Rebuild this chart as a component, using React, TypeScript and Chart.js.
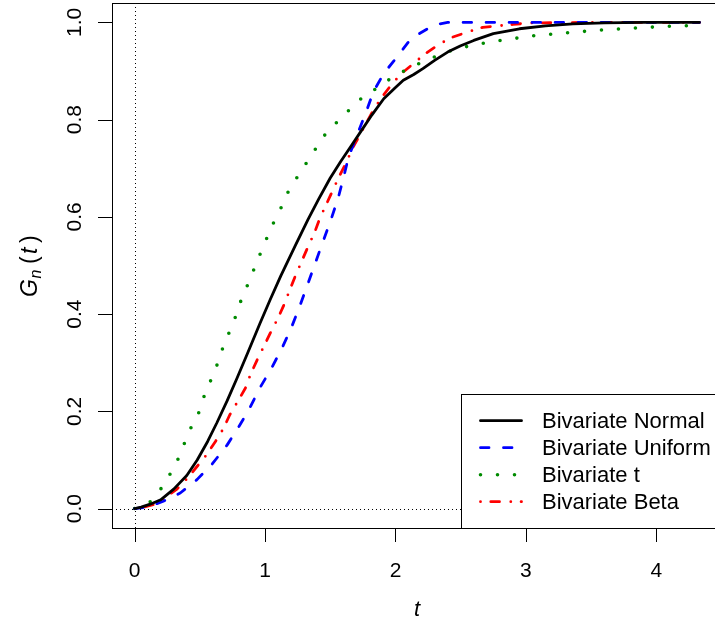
import React, { useEffect, useRef } from "react";
import { Chart, registerables } from "chart.js";

Chart.register(...registerables);

// ---- data ----
const tNormal = [0, 0.05, 0.12, 0.2, 0.3, 0.4, 0.48, 0.56, 0.63, 0.71, 0.78, 0.87, 0.96, 1.04, 1.12, 1.23, 1.33, 1.41, 1.5, 1.58, 1.66, 1.74, 1.82, 1.91, 2.0, 2.06, 2.14, 2.21, 2.3, 2.4, 2.5, 2.6, 2.75, 2.95, 3.15, 3.36, 3.6, 3.9, 4.33];
const gNormal = [0, 0.003, 0.009, 0.018, 0.04, 0.068, 0.1, 0.138, 0.176, 0.222, 0.265, 0.322, 0.38, 0.43, 0.478, 0.54, 0.595, 0.636, 0.68, 0.714, 0.746, 0.778, 0.81, 0.843, 0.866, 0.881, 0.893, 0.905, 0.922, 0.939, 0.952, 0.963, 0.977, 0.987, 0.993, 0.997, 0.999, 1.0, 1.0];

const tUniform = [0, 0.1, 0.22, 0.35, 0.48, 0.59, 0.71, 0.8, 0.87, 0.96, 1.05, 1.13, 1.2, 1.26, 1.32, 1.38, 1.44, 1.5, 1.56, 1.6, 1.64, 1.7, 1.77, 1.83, 1.91, 2.0, 2.1, 2.17, 2.24, 2.32, 2.4, 2.6, 3.0, 3.5, 4.0, 4.33];
const gUniform = [0, 0.003, 0.015, 0.032, 0.06, 0.09, 0.131, 0.169, 0.2, 0.248, 0.289, 0.33, 0.371, 0.412, 0.456, 0.501, 0.546, 0.59, 0.638, 0.679, 0.723, 0.765, 0.812, 0.857, 0.895, 0.925, 0.96, 0.975, 0.986, 0.996, 1.0, 1.0, 1.0, 1.0, 1.0, 1.0];

const tStudent = [0, 0.12, 0.2, 0.27, 0.33, 0.38, 0.43, 0.49, 0.53, 0.58, 0.63, 0.67, 0.72, 0.77, 0.81, 0.86, 0.91, 0.96, 1.01, 1.06, 1.12, 1.17, 1.24, 1.31, 1.38, 1.45, 1.54, 1.63, 1.72, 1.83, 1.93, 2.05, 2.16, 2.28, 2.39, 2.52, 2.65, 2.78, 2.91, 3.04, 3.29, 3.55, 3.81, 4.07, 4.33];
const gStudent = [0, 0.014, 0.04, 0.07, 0.1, 0.133, 0.165, 0.196, 0.229, 0.261, 0.294, 0.326, 0.359, 0.392, 0.424, 0.456, 0.489, 0.522, 0.554, 0.585, 0.617, 0.648, 0.679, 0.708, 0.737, 0.766, 0.792, 0.816, 0.84, 0.86, 0.879, 0.898, 0.913, 0.927, 0.939, 0.949, 0.956, 0.962, 0.967, 0.972, 0.978, 0.984, 0.988, 0.992, 0.994];

const tBeta = [0, 0.07, 0.145, 0.22, 0.325, 0.4, 0.48, 0.55, 0.62, 0.68, 0.73, 0.79, 0.85, 0.89, 0.94, 0.99, 1.04, 1.1, 1.15, 1.19, 1.23, 1.28, 1.33, 1.38, 1.42, 1.47, 1.52, 1.57, 1.63, 1.67, 1.72, 1.78, 1.84, 1.91, 1.98, 2.06, 2.15, 2.23, 2.34, 2.44, 2.55, 2.67, 2.9, 3.03, 3.5, 4.0, 4.33];
const gBeta = [0, 0.003, 0.008, 0.02, 0.04, 0.061, 0.087, 0.11, 0.138, 0.164, 0.193, 0.22, 0.248, 0.277, 0.306, 0.333, 0.361, 0.392, 0.422, 0.45, 0.477, 0.508, 0.539, 0.568, 0.597, 0.626, 0.655, 0.684, 0.716, 0.741, 0.765, 0.795, 0.824, 0.851, 0.876, 0.898, 0.918, 0.936, 0.956, 0.97, 0.98, 0.99, 0.996, 0.999, 1.0, 1.0, 1.0];

const seriesLabels = ["Bivariate Normal", "Bivariate Uniform", "Bivariate t", "Bivariate Beta"];
const xTicks = [0, 1, 2, 3, 4];
const yTicks = [0, 0.2, 0.4, 0.6, 0.8, 1.0];
const yTickLabels = ["0.0", "0.2", "0.4", "0.6", "0.8", "1.0"];

const X_MAX = 4.33;
const FONT = '"Liberation Sans", Arial, Helvetica, sans-serif';
const FS = 21;
const FS_LEG = 22;

const styles = [
  { color: "#000000", dash: [] as number[], cap: "round", lw: 2.8 },
  { color: "#0000FF", dash: [8.5, 14.5], cap: "round", lw: 2.8 },
  { color: "#008B00", dash: [0, 17], cap: "round", lw: 3.6 },
  { color: "#FF0000", dash: [0, 10.3, 8.7, 11.3], cap: "round", lw: 2.8 },
];

function pts(ts: number[], gs: number[]) {
  return ts.map((t, i) => ({ x: t, y: gs[i] }));
}

const decorPlugin = {
  id: "rdecor",
  beforeDatasetsDraw(chart: any) {
    const { ctx, chartArea: a, scales } = chart;
    const x0 = scales.x.getPixelForValue(0);
    const y0 = scales.y.getPixelForValue(0);
    ctx.save();
    ctx.beginPath();
    ctx.rect(a.left, a.top, a.right - a.left, a.bottom - a.top);
    ctx.clip();
    ctx.strokeStyle = "#000";
    ctx.lineWidth = 1;
    ctx.setLineDash([1, 3]);
    ctx.beginPath();
    ctx.moveTo(a.left, Math.round(y0) + 0.5);
    ctx.lineTo(a.right, Math.round(y0) + 0.5);
    ctx.moveTo(Math.round(x0) + 0.5, a.top);
    ctx.lineTo(Math.round(x0) + 0.5, a.bottom);
    ctx.stroke();
    ctx.restore();
  },
  afterDatasetsDraw(chart: any) {
    const { ctx, chartArea: a, scales } = chart;
    ctx.save();
    // legend
    const lx = 461, ly = 394;
    ctx.fillStyle = "#fff";
    ctx.fillRect(lx, ly, a.right - lx, a.bottom - ly);
    ctx.strokeStyle = "#000";
    ctx.lineWidth = 1;
    ctx.setLineDash([]);
    ctx.strokeRect(lx + 0.5, ly + 0.5, a.right - lx, a.bottom - ly);
    seriesLabels.forEach((lab, i) => {
      const yy = 420.7 + i * 27;
      const s = styles[i];
      ctx.save();
      ctx.strokeStyle = s.color;
      ctx.lineWidth = s.lw;
      ctx.lineCap = s.cap;
      ctx.setLineDash(s.dash);
      ctx.beginPath();
      ctx.moveTo(480.5, yy);
      ctx.lineTo(521.5, yy);
      ctx.stroke();
      ctx.restore();
      ctx.fillStyle = "#000";
      ctx.font = `${FS_LEG}px ${FONT}`;
      ctx.textAlign = "left";
      ctx.textBaseline = "middle";
      ctx.fillText(lab, 542, yy + 1);
    });
    // box
    ctx.strokeStyle = "#000";
    ctx.lineWidth = 1;
    ctx.strokeRect(Math.round(a.left) + 0.5, Math.round(a.top) + 0.5, Math.round(a.right - a.left), Math.round(a.bottom - a.top));
    // ticks
    ctx.font = `${FS}px ${FONT}`;
    ctx.fillStyle = "#000";
    ctx.beginPath();
    xTicks.forEach((v) => {
      const px = Math.round(scales.x.getPixelForValue(v)) + 0.5;
      ctx.moveTo(px, a.bottom);
      ctx.lineTo(px, a.bottom + 14);
    });
    yTicks.forEach((v) => {
      const py = Math.round(scales.y.getPixelForValue(v)) + 0.5;
      ctx.moveTo(a.left, py);
      ctx.lineTo(a.left - 14, py);
    });
    ctx.stroke();
    ctx.textAlign = "center";
    ctx.textBaseline = "alphabetic";
    xTicks.forEach((v) => {
      ctx.fillText(String(v), scales.x.getPixelForValue(v), 576.5);
    });
    yTicks.forEach((v, i) => {
      ctx.save();
      ctx.translate(80.5, scales.y.getPixelForValue(v));
      ctx.rotate(-Math.PI / 2);
      ctx.fillText(yTickLabels[i], 0, 0);
      ctx.restore();
    });
    // x title
    ctx.font = `italic ${FS_LEG}px ${FONT}`;
    ctx.fillText("t", 417, 615.5);
    // y title G_n(t)
    ctx.save();
    ctx.translate(36.5, 297);
    ctx.rotate(-Math.PI / 2);
    ctx.textAlign = "left";
    const parts = [
      { s: "G", f: `italic 23px ${FONT}`, x: 0, dy: 0 },
      { s: "n", f: `italic 16px ${FONT}`, x: 18.5, dy: 4 },
      { s: "(", f: `23px ${FONT}`, x: 33, dy: 0 },
      { s: "t", f: `italic 23px ${FONT}`, x: 43, dy: 0 },
      { s: ")", f: `23px ${FONT}`, x: 54, dy: 0 },
    ];
    parts.forEach((p) => {
      ctx.font = p.f;
      ctx.fillText(p.s, p.x, p.dy);
    });
    ctx.restore();
    ctx.restore();
  },
};

export default function App() {
  const ref = useRef<HTMLCanvasElement | null>(null);
  useEffect(() => {
    const canvas = ref.current!;
    const W = 740, H = 621;
    const top = 3, bottom = 528, left = 112, right = 722;
    const allT = [tNormal, tUniform, tStudent, tBeta];
    const allG = [gNormal, gUniform, gStudent, gBeta];
    const chart = new Chart(canvas, {
      type: "line",
      data: {
        datasets: seriesLabels.map((lab, i) => ({
          label: lab,
          data: pts(allT[i], allG[i]),
          borderColor: styles[i].color,
          borderWidth: styles[i].lw,
          borderDash: styles[i].dash,
          borderCapStyle: styles[i].cap as any,
          borderJoinStyle: "round" as any,
          pointRadius: 0,
          tension: 0,
          fill: false,
        })),
      },
      options: {
        animation: false,
        responsive: false,
        maintainAspectRatio: false,
        devicePixelRatio: 1,
        layout: { padding: { top, right: W - right, left: 0, bottom: 0 } },
        plugins: { legend: { display: false }, tooltip: { enabled: false } },
        scales: {
          x: {
            type: "linear",
            min: -0.04 * X_MAX,
            max: 1.04 * X_MAX,
            grid: { display: false },
            ticks: { display: false },
            border: { display: false },
            afterFit: (s: any) => { s.height = H - bottom; },
          },
          y: {
            type: "linear",
            min: -0.04,
            max: 1.04,
            grid: { display: false },
            ticks: { display: false },
            border: { display: false },
            afterFit: (s: any) => { s.width = left; },
          },
        },
      },
      plugins: [decorPlugin],
    });
    return () => chart.destroy();
  }, []);
  return (
    <div style={{ position: "fixed", left: 0, top: 0, width: 715, height: 621, overflow: "hidden", background: "#fff" }}>
      <canvas ref={ref} width={740} height={621} style={{ width: 740, height: 621, display: "block" }} />
    </div>
  );
}
